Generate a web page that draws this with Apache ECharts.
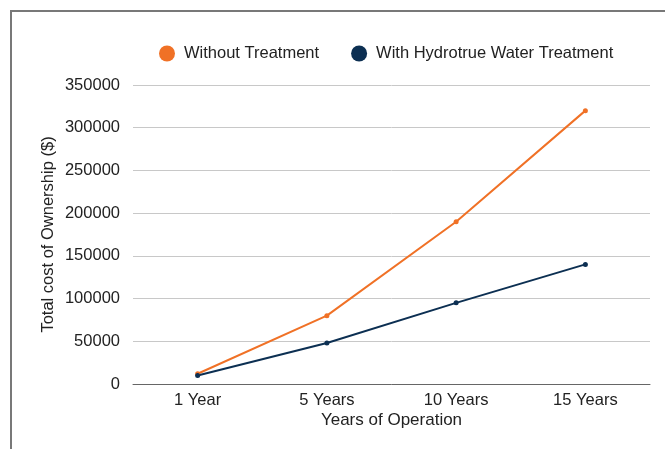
<!DOCTYPE html>
<html>
<head>
<meta charset="utf-8">
<script src="https://cdn.jsdelivr.net/npm/echarts@6/dist/echarts.min.js"></script>
<style>
  html, body { margin: 0; padding: 0; background: #fff; }
  #frame { position: absolute; left: 10px; top: 10px; width: 700px; height: 500px;
           border-left: 2px solid #787878; border-top: 2px solid #787878; }
  #chart { position: absolute; left: 0; top: 0; width: 665px; height: 449px; }
</style>
</head>
<body>
<div id="frame"></div>
<div id="chart"></div>
<script>
var categories = ['1 Year', '5 Years', '10 Years', '15 Years'];
var withoutTreatment = [12000, 80000, 190000, 320000];
var withHydrotrue = [10000, 48000, 95000, 140000];
var seriesNames = ['Without Treatment', 'With Hydrotrue Water Treatment'];
var colors = ['#f07126', '#0c2f52'];

var font = 'Liberation Sans, Arial, sans-serif';
var chart = echarts.init(document.getElementById('chart'));

var makeLine = function(name, values, color) {
  return {
    name: name,
    type: 'line',
    data: values,
    symbol: 'circle',
    symbolSize: 5,
    lineStyle: { width: 2, color: color },
    itemStyle: { color: color }
  };
};

chart.setOption({
  animation: false,
  color: colors,
  legend: {
    top: 45,
    left: 159,
    padding: 0,
    itemWidth: 16,
    itemHeight: 16,
    itemGap: 32,
    icon: 'circle',
    textStyle: { fontFamily: font, fontSize: 16.5, color: '#222', padding: [0, 0, 0, 4] },
    data: seriesNames
  },
  grid: { left: 133, right: 15, top: 85, bottom: 65 },
  xAxis: {
    type: 'category',
    data: categories,
    name: 'Years of Operation',
    nameLocation: 'middle',
    nameGap: 28,
    nameMoveOverlap: false,
    nameTextStyle: { fontFamily: font, fontSize: 17, color: '#222' },
    axisLine: { lineStyle: { color: '#666', width: 1 } },
    axisTick: { show: false },
    axisLabel: { fontFamily: font, fontSize: 16.5, color: '#222', margin: 8 }
  },
  yAxis: {
    type: 'value',
    min: 0,
    max: 350000,
    interval: 50000,
    name: 'Total cost of Ownership ($)',
    nameLocation: 'middle',
    nameGap: 76,
    nameMoveOverlap: false,
    nameTextStyle: { fontFamily: font, fontSize: 16.5, color: '#222' },
    axisLine: { show: false },
    axisTick: { show: false },
    axisLabel: {
      fontFamily: font, fontSize: 16.5, color: '#222', margin: 13,
      formatter: function(v) { return String(v); }
    },
    splitLine: { lineStyle: { color: '#c8c8c8', width: 1 } }
  },
  series: [
    makeLine(seriesNames[0], withoutTreatment, colors[0]),
    makeLine(seriesNames[1], withHydrotrue, colors[1])
  ]
});
</script>
</body>
</html>
